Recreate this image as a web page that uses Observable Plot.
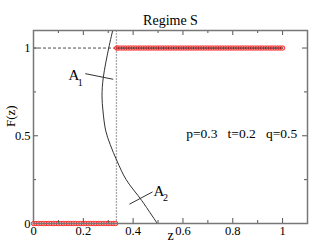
<!DOCTYPE html>
<html>
<head>
<meta charset="utf-8">
<script src="https://cdn.jsdelivr.net/npm/d3@7"></script>
<script src="https://cdn.jsdelivr.net/npm/@observablehq/plot@0.6"></script>
<style>
  html, body { margin: 0; padding: 0; background: #fff; }
  svg { display: block; }
</style>
</head>
<body>
<div id="chart"></div>
<script>
// Data
const title = "Regime S";
const xTickMajor = [0, 0.2, 0.4, 0.6, 0.8, 1];
const xTickMinor = [0.1, 0.3, 0.5, 0.7, 0.9];
const yTickMajor = [0, 0.5, 1];
const yTickMinor = [0.25, 0.75];
const zCrit = 0.333;
// red points: F = 0 below zCrit, F = 1 above
const lowZ = [0,0.01,0.02,0.03,0.04,0.05,0.06,0.07,0.08,0.09,0.1,0.11,0.12,0.13,0.14,0.15,0.16,0.17,0.18,0.19,0.2,0.21,0.22,0.23,0.24,0.25,0.26,0.27,0.28,0.29,0.3,0.31,0.32,0.33];
const lowF = lowZ.map(() => 0);
const highZ = [0.334,0.34,0.35,0.36,0.37,0.38,0.39,0.4,0.41,0.42,0.43,0.44,0.45,0.46,0.47,0.48,0.49,0.5,0.51,0.52,0.53,0.54,0.55,0.56,0.57,0.58,0.59,0.6,0.61,0.62,0.63,0.64,0.65,0.66,0.67,0.68,0.69,0.7,0.71,0.72,0.73,0.74,0.75,0.76,0.77,0.78,0.79,0.8,0.81,0.82,0.83,0.84,0.85,0.86,0.87,0.88,0.89,0.9,0.91,0.92,0.93,0.94,0.95,0.96,0.97,0.98,0.99,1];
const highF = highZ.map(() => 1);
// curve A1/A2
const curveZ = [0.318, 0.302, 0.280, 0.275, 0.279, 0.290, 0.308, 0.335, 0.372, 0.435, 0.497];
const curveF = [1.1, 1.0, 0.83, 0.727, 0.641, 0.528, 0.45, 0.357, 0.25, 0.13, 0];
// annotations
const labelText = ["A", "A"];
const labelSub = ["1", "2"];
const labelZ = [0.162, 0.504];
const labelF = [0.846, 0.186];
const subZ = [0.188, 0.530];
const subF = [0.80, 0.145];
const leaderZ1 = [0.208, 0.385];
const leaderF1 = [0.854, 0.110];
const leaderZ2 = [0.320, 0.478];
const leaderF2 = [0.822, 0.180];
const paramText = "p=0.3   t=0.2   q=0.5";
const paramZ = 0.836, paramF = 0.51;

const curve = curveZ.map((z, i) => ({z, F: curveF[i]}));
const low = lowZ.map((z, i) => ({z, F: lowF[i]}));
const high = highZ.map((z, i) => ({z, F: highF[i]}));
const labels = labelText.map((t, i) => ({t, s: labelSub[i], z: labelZ[i], F: labelF[i], sz: subZ[i], sF: subF[i]}));
const leaders = leaderZ1.map((z1, i) => ({z1, F1: leaderF1[i], z2: leaderZ2[i], F2: leaderF2[i]}));

const W = 309, H = 244;
const mT = 30, mB = 21, mL = 33, mR = 2;
const fw = W - mL - mR, fh = H - mT - mB;
const font = "'Liberation Serif', 'Times New Roman', serif";

const chart = Plot.plot({
  width: W, height: H,
  marginTop: mT, marginBottom: mB, marginLeft: mL, marginRight: mR,
  style: `font-family: ${font}; background: #fff; color: #000;`,
  x: {domain: [0, 1.1]},
  y: {domain: [0, 1.1]},
  marks: [
    Plot.axisX(xTickMajor, {anchor: "bottom", tickSize: 0, tickPadding: 3, fontSize: 12.5, fontFamily: font, label: null, tickFormat: d => String(d)}),
    Plot.axisY(yTickMajor, {anchor: "left", tickSize: 0, tickPadding: 3, fontSize: 12.5, fontFamily: font, label: null, tickFormat: d => String(d)}),
    Plot.ruleY([1], {x1: 0, x2: zCrit, stroke: "#000", strokeWidth: 0.7, strokeDasharray: "3,2"}),
    Plot.ruleX([zCrit], {stroke: "#aaa", strokeWidth: 1.3, strokeDasharray: "2,1"}),
    Plot.line(curve, {x: "z", y: "F", curve: "catmull-rom", stroke: "#333", strokeWidth: 1, clip: true}),
    Plot.link(leaders, {x1: "z1", y1: "F1", x2: "z2", y2: "F2", stroke: "#333", strokeWidth: 1}),
    Plot.dot(low, {x: "z", y: "F", r: 2.2, stroke: "#ff2020", strokeOpacity: 0.9, strokeWidth: 1, fill: "#ffb0b0"}),
    Plot.dot(high, {x: "z", y: "F", r: 2.2, stroke: "#ff2020", strokeOpacity: 0.9, strokeWidth: 1, fill: "#ffb0b0"}),
    Plot.line(low, {x: "z", y: "F", stroke: "#000", strokeWidth: 0.8}),
    Plot.line(high, {x: "z", y: "F", stroke: "#000", strokeWidth: 0.8}),
    Plot.tickX(xTickMajor, {x: d => d, insetTop: fh - 5, stroke: "#555"}),
    Plot.tickX(xTickMinor, {x: d => d, insetTop: fh - 3, stroke: "#555"}),
    Plot.tickX(xTickMajor, {x: d => d, insetBottom: fh - 5, stroke: "#555"}),
    Plot.tickX(xTickMinor, {x: d => d, insetBottom: fh - 3, stroke: "#555"}),
    Plot.tickY(yTickMajor, {y: d => d, insetRight: fw - 5, stroke: "#555"}),
    Plot.tickY(yTickMinor, {y: d => d, insetRight: fw - 3, stroke: "#555"}),
    Plot.tickY(yTickMajor, {y: d => d, insetLeft: fw - 5, stroke: "#555"}),
    Plot.tickY(yTickMinor, {y: d => d, insetLeft: fw - 3, stroke: "#555"}),
    Plot.frame({stroke: "#777", strokeWidth: 1.5}),
    Plot.text(labels, {x: "z", y: "F", text: "t", fontSize: 15, fontFamily: font, fill: "#000"}),
    Plot.text(labels, {x: "sz", y: "sF", text: "s", fontSize: 10, fontFamily: font, fill: "#000"}),
    Plot.text([paramText], {x: paramZ, y: paramF, text: d => d, fontSize: 13.5, fontFamily: font, fill: "#000"}),
    Plot.text([title], {frameAnchor: "top", dy: -15, text: d => d, fontSize: 14, fontFamily: font, fill: "#000"}),
    Plot.text(["z"], {frameAnchor: "bottom", dy: 16, text: d => d, fontSize: 14, fontFamily: font, fill: "#000"}),
    Plot.text(["F(z)"], {frameAnchor: "left", dx: -23, rotate: -90, text: d => d, fontSize: 13, fontFamily: font, fill: "#000"})
  ]
});
document.getElementById("chart").appendChild(chart);
</script>
</body>
</html>
